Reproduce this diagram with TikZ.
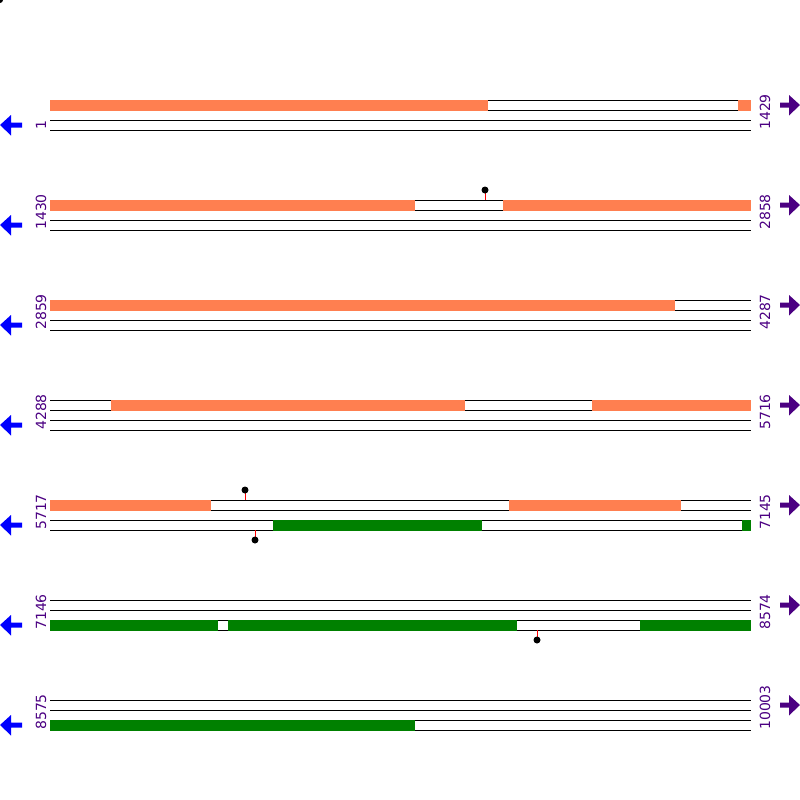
\documentclass[tikz,border=0pt]{standalone}
\usepackage{fontspec}
\setmainfont{DejaVu Sans}
\definecolor{coral}{RGB}{255,127,80}
\definecolor{dkgreen}{RGB}{0,128,0}
\definecolor{indig}{RGB}{75,0,130}
\tikzset{
  trk/.style={black,line width=0.75pt},
  org/.style={fill=coral},
  grn/.style={fill=dkgreen},
  stem/.style={red,line width=0.75pt},
  lbl/.style={text=indig,rotate=90,inner sep=0pt,anchor=west,font=\fontsize{10.5pt}{12pt}\selectfont},
  larr/.style={fill=blue},
  rarr/.style={fill=indig}
}
\begin{document}
\begin{tikzpicture}[x=0.75pt,y=-0.75pt]
\useasboundingbox (0,0) rectangle (800,800);
\fill (0,0) circle (3);
% track lines
\foreach \y in {100,200,...,700}{
  \foreach \d in {0,10,20,30}{
    \draw[trk] (50,\y+\d) -- (751,\y+\d);
  }
}
% row 1
\fill[org] (50,99.5) rectangle (488,110.5);
\fill[org] (738,99.5) rectangle (751,110.5);
% row 2
\fill[org] (50,199.5) rectangle (415,210.5);
\fill[org] (503,199.5) rectangle (751,210.5);
\draw[stem] (485,200) -- (485,190);
\fill (485,190) circle (3.5);
% row 3
\fill[org] (50,299.5) rectangle (675,310.5);
% row 4
\fill[org] (111,399.5) rectangle (465,410.5);
\fill[org] (592,399.5) rectangle (751,410.5);
% row 5
\fill[org] (50,499.5) rectangle (211,510.5);
\fill[org] (509,499.5) rectangle (681,510.5);
\draw[stem] (245,500) -- (245,490);
\fill (245,490) circle (3.5);
\fill[grn] (273,519.5) rectangle (482,530.5);
\fill[grn] (742,519.5) rectangle (751,530.5);
\draw[stem] (255,530) -- (255,540);
\fill (255,540) circle (3.5);
% row 6
\fill[grn] (50,619.5) rectangle (218,630.5);
\fill[grn] (228,619.5) rectangle (517,630.5);
\fill[grn] (640,619.5) rectangle (751,630.5);
\draw[stem] (537,630) -- (537,640);
\fill (537,640) circle (3.5);
% row 7
\fill[grn] (50,719.5) rectangle (415,730.5);
% labels
\node[lbl] (l1) at (41,130) {1};
\node[lbl] (r1) at (765,130) {1429};
\node[lbl] (l2) at (41,230) {1430};
\node[lbl] (r2) at (765,230) {2858};
\node[lbl] (l3) at (41,330) {2859};
\node[lbl] (r3) at (765,330) {4287};
\node[lbl] (l4) at (41,430) {4288};
\node[lbl] (r4) at (765,430) {5716};
\node[lbl] (l5) at (41,530) {5717};
\node[lbl] (r5) at (765,530) {7145};
\node[lbl] (l6) at (41,630) {7146};
\node[lbl] (r6) at (765,630) {8574};
\node[lbl] (l7) at (41,730) {8575};
\node[lbl] (r7) at (765,730) {10003};
% arrows
\foreach \y in {100,200,...,700}{
  \fill[larr] (22,\y+22.5) -- (11,\y+22.5) -- (11,\y+15) -- (0,\y+25) -- (11,\y+35.5) -- (11,\y+27.5) -- (22,\y+27.5) -- cycle;
  \fill[rarr] (780,\y+2.5) -- (789,\y+2.5) -- (789,\y-5) -- (800,\y+5) -- (789,\y+15.5) -- (789,\y+7.5) -- (780,\y+7.5) -- cycle;
}
\end{tikzpicture}
\end{document}
